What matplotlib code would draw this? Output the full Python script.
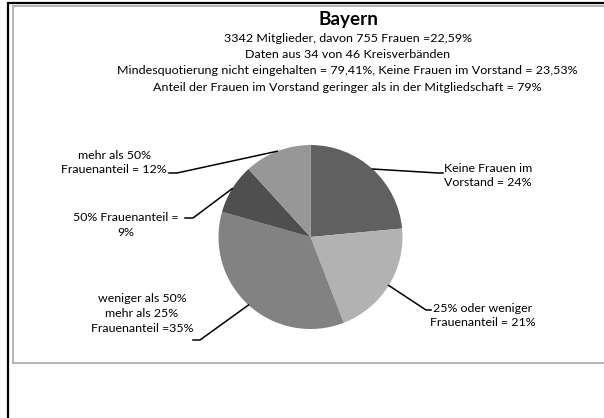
import numpy as np
import matplotlib
matplotlib.use("Agg")
import matplotlib.pyplot as plt

# ---- data ----
categories = ["Keine Frauen im\nVorstand = 24%",
              "25% oder weniger\nFrauenanteil = 21%",
              "weniger als 50%\nmehr als 25%\nFrauenanteil =35%",
              "50% Frauenanteil =\n9%",
              "mehr als 50%\nFrauenanteil = 12%"]
counts = [8, 7, 12, 3, 4]          # Kreisverbände (of 34)
colors = ["#606060", "#b2b2b2", "#828282", "#4f4f4f", "#979797"]
title = "Bayern"
subtitle_lines = ["3342 Mitglieder, davon 755 Frauen =22,59%",
                  "Daten aus 34 von 46 Kreisverbänden",
                  "Mindesquotierung nicht eingehalten = 79,41%, Keine Frauen im Vorstand = 23,53%",
                  "Anteil der Frauen im Vorstand geringer als in der Mitgliedschaft = 79%"]

W, H = 604, 418
FONT = ["Lato", "DejaVu Sans"]

fig = plt.figure(figsize=(W / 100, H / 100), dpi=100)
ax = fig.add_axes([0, 0, 1, 1])
renderer = fig.canvas.get_renderer()

def Y(y):  # pixel-from-top -> data
    return H - y

def fit_size(s, target_px, weight="normal", base=10.0):
    t = fig.text(0, 0, s, family=FONT, fontsize=base, fontweight=weight)
    w = t.get_window_extent(renderer).width
    t.remove()
    return base * target_px / w

# frames
ax.plot([8, 8], [Y(2), Y(418)], color="black", lw=1.6, solid_capstyle="butt")
ax.plot([8, W], [Y(2.5), Y(2.5)], color="black", lw=1.6, solid_capstyle="butt")
ax.plot([12.5, 12.5], [Y(5.5), Y(363)], color="#a8a8a8", lw=1.2)
ax.plot([12.5, W], [Y(5.5), Y(5.5)], color="#a8a8a8", lw=1.2)
ax.plot([12.5, W], [Y(363), Y(363)], color="#a8a8a8", lw=1.2)

# pie
cx, cy, r = 310.5, Y(237), 92
wedges, _ = ax.pie(counts, colors=colors, startangle=90, counterclock=False,
                   center=(cx, cy), radius=r, frame=True,
                   wedgeprops=dict(linewidth=0))
ax.set_xlim(0, W)
ax.set_ylim(0, H)
ax.set_aspect("equal")
ax.axis("off")

label_size = fit_size("Frauenanteil = 21%", 106)
sub_size = fit_size(subtitle_lines[2], 457)
title_size = fit_size(title, 60, weight="bold")

# labels: (elbow x, elbow y, text-end x, text x, text y(center), ha)
label_layout = [
    (438, 173, 443, 444, 175.5, "left"),
    (426, 310, 431, 483, 315.5, "center"),
    (200, 340, 193, 142, 313.5, "center"),
    (193, 218, 185, 126, 225, "center"),
    (177, 173, 169, 114, 162.5, "center"),
]
for w, lab, (ex, ey, tx, lx, ly, ha) in zip(wedges, categories, label_layout):
    mid = np.deg2rad((w.theta1 + w.theta2) / 2)
    ax_, ay_ = cx + r * np.cos(mid), cy + r * np.sin(mid)
    ax.plot([ax_, ex, tx], [ay_, Y(ey), Y(ey)], color="black", lw=1.1)
    ax.text(lx, Y(ly), lab, ha=ha, va="center", multialignment=ha,
            family=FONT, fontsize=label_size, fontweight="normal",
            linespacing=1.4, color="black")

# title
ax.text(348, Y(20), title, ha="center", va="center", family=FONT,
        fontsize=title_size, fontweight="bold")
for i, s in enumerate(subtitle_lines):
    ax.text(347.5, Y(38 + 16.5 * i), s, ha="center", va="center", family=FONT,
            fontsize=sub_size, color="black")

fig.savefig("out.png", dpi=100)
